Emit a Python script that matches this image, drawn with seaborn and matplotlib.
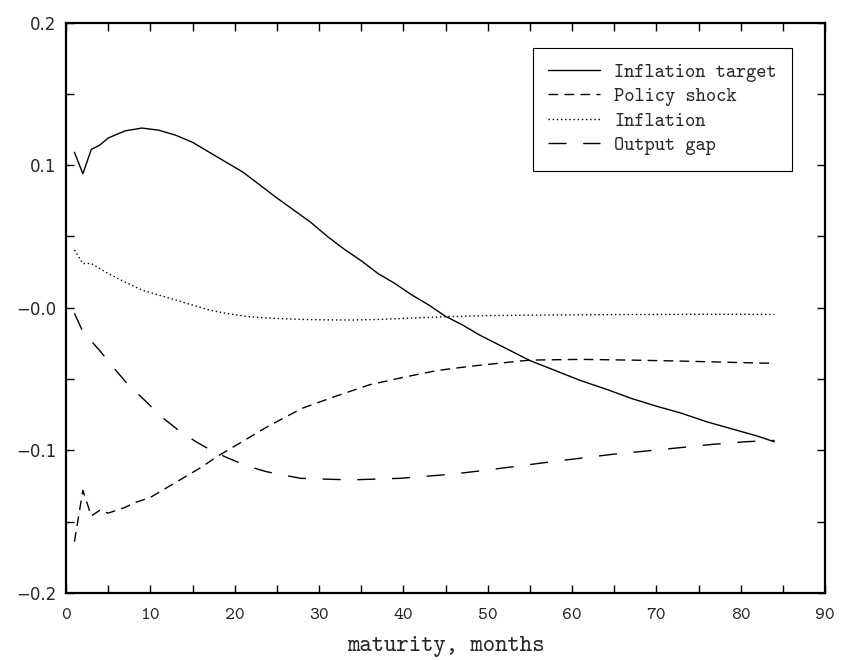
import numpy as np
import pandas as pd
import matplotlib
matplotlib.use("Agg")
import matplotlib.pyplot as plt
from matplotlib.ticker import MultipleLocator
import seaborn as sns

# values (maturity in months)
target_months = [1, 2, 3, 4, 5, 7, 9, 11, 13, 15, 17, 19, 21, 23, 25, 27, 29, 31, 33, 35,
                 37, 39, 41, 43, 45, 47, 49, 52, 55, 58, 61, 64, 67, 70, 73, 76, 79, 82, 84]
target_vals = [0.109, 0.094, 0.111, 0.114, 0.119, 0.124, 0.126, 0.1245, 0.121, 0.116,
               0.109, 0.102, 0.095, 0.086, 0.077, 0.0685, 0.060, 0.050, 0.041, 0.033,
               0.024, 0.017, 0.009, 0.002, -0.006, -0.012, -0.019, -0.028, -0.037, -0.044,
               -0.051, -0.057, -0.0635, -0.069, -0.074, -0.080, -0.085, -0.090, -0.094]

shock_months = [1, 2, 3, 4, 5, 6, 7, 8, 9, 10, 12, 14, 16, 18, 20, 24, 28, 32, 36, 40,
                44, 48, 52, 55, 61, 67, 73, 79, 84]
shock_vals = [-0.164, -0.128, -0.146, -0.142, -0.144, -0.142, -0.140, -0.137, -0.135,
              -0.133, -0.126, -0.119, -0.112, -0.104, -0.097, -0.083, -0.0705, -0.062,
              -0.054, -0.0488, -0.044, -0.041, -0.0385, -0.0367, -0.0362, -0.0367,
              -0.0374, -0.0383, -0.039]

infl_months = [1, 2, 3, 5, 7, 9, 11, 13, 15, 17, 19, 22, 25, 28, 31, 34, 37, 40, 45,
               50, 55, 60, 65, 70, 75, 80, 84]
infl_vals = [0.0405, 0.031, 0.031, 0.024, 0.018, 0.0124, 0.0089, 0.0054, 0.0019, -0.0016,
             -0.004, -0.0065, -0.0075, -0.0082, -0.0085, -0.0086, -0.0082, -0.0075,
             -0.0063, -0.0055, -0.0052, -0.005, -0.0048, -0.0047, -0.0046, -0.0046, -0.0047]

gap_months = [1, 2, 4, 5.5, 7.3, 9.3, 11.3, 13.3, 15.4, 17.5, 19.3, 21.5, 23.8, 27.8,
              33.7, 39.6, 45.6, 49.1, 53.1, 57, 61, 64.9, 68.9, 72.8, 76.8, 80.7, 84]
gap_vals = [-0.0039, -0.0168, -0.030, -0.041, -0.0535, -0.0647, -0.0764, -0.0857,
            -0.0939, -0.1009, -0.1056, -0.111, -0.115, -0.1196, -0.1207, -0.1196,
            -0.1168, -0.1144, -0.1114, -0.1084, -0.1055, -0.1027, -0.1004, -0.0981,
            -0.0957, -0.0939, -0.093]

series_names = ["Inflation target", "Policy shock", "Inflation", "Output gap"]
ytick_vals = [-0.2, -0.1, 0.0, 0.1, 0.2]
ytick_labels = ["\u22120.2", "\u22120.1", "\u22120.0", "0.1", "0.2"]

sns.set_style("ticks")
plt.rcParams["font.family"] = ["cmtt10", "DejaVu Serif"]

fig = plt.figure(figsize=(8.43, 6.60), dpi=100)
ax = fig.add_axes([66 / 843, 1 - 593 / 660, 759 / 843, 570.5 / 660])

styles = ["-", (0, (7, 4.5)), (0, (1, 2)), (0, (13, 12))]
data = [(target_months, target_vals), (shock_months, shock_vals),
        (infl_months, infl_vals), (gap_months, gap_vals)]
for name, (mx, my), ls in zip(series_names, data, styles):
    sns.lineplot(x=mx, y=my, ax=ax, color="black", linewidth=1.0,
                 linestyle=ls, label=name)

ax.set_xlim(0, 90)
ax.set_ylim(-0.2, 0.2)
ax.xaxis.set_major_locator(MultipleLocator(10))
ax.xaxis.set_minor_locator(MultipleLocator(5))
ax.set_yticks(ytick_vals)
ax.set_yticklabels(ytick_labels, fontfamily="DejaVu Sans", fontsize=12)
ax.yaxis.set_minor_locator(MultipleLocator(0.05))
ax.tick_params(which="both", direction="in", top=True, right=True,
               length=6, width=1.0, color="black")
ax.tick_params(axis="x", pad=11, labelsize=13.5)
ax.tick_params(axis="y", pad=7)
for sp in ax.spines.values():
    sp.set_linewidth(1.6)
    sp.set_color("black")

ax.set_xlabel("maturity, months", fontsize=17, labelpad=9.5)
ax.set_ylabel("")

leg = ax.legend(loc="upper right", bbox_to_anchor=(0.957, 0.956), borderaxespad=0,
                fontsize=14, handlelength=2.65, labelspacing=0.3,
                fancybox=False, edgecolor="black", framealpha=1,
                borderpad=0.8, handletextpad=0.75)
leg.get_frame().set_linewidth(0.8)

fig.savefig("out.png", dpi=100)
